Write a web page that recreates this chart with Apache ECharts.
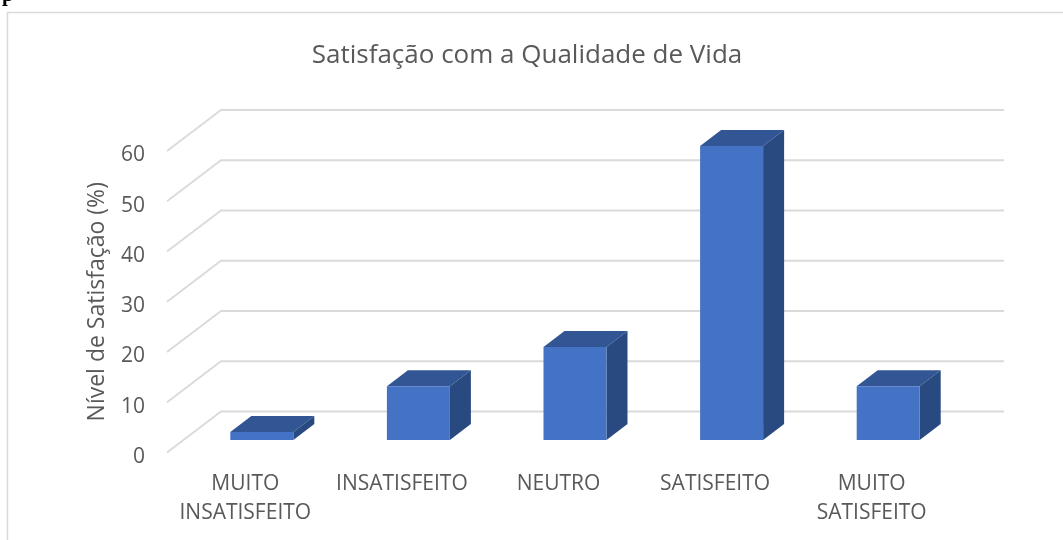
<!DOCTYPE html>
<html>
<head>
<meta charset="utf-8">
<style>html,body{margin:0;padding:0;background:#fff}#c{width:1063px;height:540px}</style>
<script src="https://cdn.jsdelivr.net/npm/echarts@6/dist/echarts.min.js"></script>
</head>
<body>
<div id="c"></div>
<script>
const categories = ['MUITO\nINSATISFEITO', 'INSATISFEITO', 'NEUTRO', 'SATISFEITO', 'MUITO\nSATISFEITO'];
const satisfaction = [1.6, 10.7, 18.5, 58.5, 10.7];
const gridValues = [0, 10, 20, 30, 40, 50, 60];
const chartTitle = 'Satisfação com a Qualidade de Vida';
const yTitle = 'Nível de Satisfação (%)';

const WALL = [54, -41];      // depth of the side wall
const BAR_OFF = [16.5, -12.5]; // where the bar's front sits within the depth
const BAR_DEPTH = [21, -16];
const BAR_W = 63;

const chart = echarts.init(document.getElementById('c'), null, {renderer: 'canvas'});
const font = '"Open Sans", sans-serif';
chart.setOption({
  animation: false,
  backgroundColor: '#fff',
  title: {
    text: chartTitle, left: 522, top: 38, textAlign: 'center',
    textStyle: {color: '#595959', fontFamily: font, fontSize: 26, fontWeight: 'normal'}
  },
  grid: {left: 167, right: 113, top: 151, bottom: 87.5},
  xAxis: {
    type: 'category', data: categories,
    axisLine: {show: false}, axisTick: {show: false}, splitLine: {show: false},
    axisLabel: {color: '#595959', fontFamily: font, fontSize: 21, lineHeight: 29, margin: 17, interval: 0}
  },
  yAxis: {
    type: 'value', min: 0, max: 60, interval: 10,
    name: yTitle, nameLocation: 'middle', nameGap: 58, nameRotate: 90,
    nameTextStyle: {color: '#595959', fontFamily: font, fontSize: 23},
    axisLine: {show: false}, axisTick: {show: false}, splitLine: {show: false},
    axisLabel: {color: '#595959', fontFamily: font, fontSize: 21, margin: 22, verticalAlign: 'top', lineHeight: 9}
  },
  graphic: [
    {type: 'rect', silent: true, z: -1, shape: {x: 7.5, y: 12.5, width: 1200, height: 700},
     style: {fill: 'none', stroke: '#d9d9d9', lineWidth: 1.5}},
    {type: 'text', silent: true, x: 2, y: -15,
     style: {text: 'p', fill: '#000', font: 'bold 21px "Liberation Serif"'}}
  ],
  series: [
    {
      type: 'custom', name: 'grade', z: 1, silent: true,
      data: gridValues.map(v => [0, v]),
      encode: {x: 0, y: 1},
      renderItem(params, api) {
        const y = api.coord([0, api.value(1)])[1];
        const cs = params.coordSys;
        return {
          type: 'polyline',
          shape: {points: [[cs.x, y], [cs.x + WALL[0], y + WALL[1]], [cs.x + cs.width + WALL[0], y + WALL[1]]]},
          style: {fill: 'none', stroke: '#dadada', lineWidth: 1.8}
        };
      }
    },
    {
      type: 'custom', name: 'Satisfação', z: 2, silent: true,
      data: satisfaction.map((v, i) => [i, v]),
      encode: {x: 0, y: 1},
      renderItem(params, api) {
        const top = api.coord([api.value(0), api.value(1)]);
        const base = api.coord([api.value(0), 0]);
        const x0 = top[0] + BAR_OFF[0] - BAR_W / 2, x1 = x0 + BAR_W;
        const yT = top[1] + BAR_OFF[1], yB = base[1] + BAR_OFF[1];
        const dx = BAR_DEPTH[0], dy = BAR_DEPTH[1];
        return {
          type: 'group',
          children: [
            {type: 'polygon', shape: {points: [[x0, yT], [x1, yT], [x1 + dx, yT + dy], [x0 + dx, yT + dy]]},
             style: {fill: '#325694'}},
            {type: 'polygon', shape: {points: [[x1, yT], [x1 + dx, yT + dy], [x1 + dx, yB + dy], [x1, yB]]},
             style: {fill: '#294a80'}},
            {type: 'rect', shape: {x: x0, y: yT, width: BAR_W, height: yB - yT},
             style: {fill: '#4472c4'}}
          ]
        };
      }
    }
  ]
});
</script>
</body>
</html>
